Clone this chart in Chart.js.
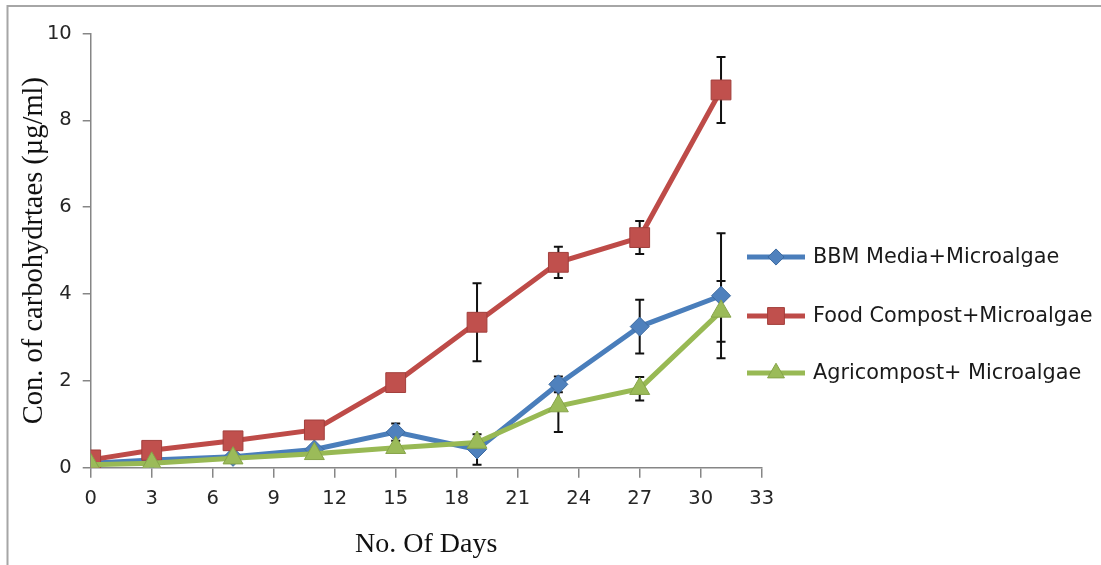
<!DOCTYPE html>
<html>
<head>
<meta charset="utf-8">
<style>
  html, body { margin: 0; padding: 0; background: #fff; }
  #wrap { width: 1101px; height: 565px; }
</style>
<script src="https://cdn.jsdelivr.net/npm/chart.js@4.4.0/dist/chart.umd.min.js"></script>
</head>
<body>
<div id="wrap"><canvas id="chart" width="1101" height="565"></canvas></div>
<script>
// valores (dias x µg/ml)
var days      = [0, 3, 7, 11, 15, 19, 23, 27, 31];
var names     = ['BBM Media+Microalgae', 'Food Compost+Microalgae', 'Agricompost+ Microalgae'];
var bbm       = [0.10, 0.18, 0.25, 0.42, 0.82, 0.42, 1.92, 3.25, 3.96];
var bbmErr    = [0, 0, 0, 0, 0.20, 0.35, 0.18, 0.62, 1.44];
var food      = [0.18, 0.40, 0.62, 0.87, 1.96, 3.35, 4.73, 5.30, 8.70];
var foodErr   = [0, 0, 0, 0, 0, 0.90, 0.36, 0.38, 0.76];
var agri      = [0.07, 0.10, 0.22, 0.32, 0.46, 0.58, 1.42, 1.82, 3.60];
var agriErr   = [0, 0, 0, 0, 0, 0, 0.60, 0.27, 0.70];
var xTicks    = [0, 3, 6, 9, 12, 15, 18, 21, 24, 27, 30, 33];
var yTicks    = [0, 2, 4, 6, 8, 10];
var xTitle    = 'No. Of Days';
var yTitle    = 'Con. of carbohydrtaes (µg/ml)';

function pts(vals, errs) {
  return days.map(function(d, i) { return { x: d, y: vals[i], err: errs[i] }; });
}

var axisGrey = '#868686';

// moldura cinza da figura
var frame = {
  id: 'frame',
  beforeDraw: function(chart) {
    var ctx = chart.ctx;
    ctx.save();
    ctx.fillStyle = '#fff';
    ctx.fillRect(0, 0, chart.width, chart.height);
    ctx.strokeStyle = '#a6a6a6';
    ctx.lineWidth = 2;
    ctx.beginPath();
    ctx.moveTo(7.5, chart.height);
    ctx.lineTo(7.5, 6);
    ctx.lineTo(chart.width, 6);
    ctx.stroke();
    ctx.restore();
  }
};

// barras de erro (atrás dos marcadores)
var errorBars = {
  id: 'errorBars',
  beforeDatasetsDraw: function(chart) {
    var ctx = chart.ctx, xs = chart.scales.x, ys = chart.scales.y;
    ctx.save();
    ctx.strokeStyle = '#111';
    ctx.lineWidth = 2;
    chart.data.datasets.forEach(function(ds) {
      ds.data.forEach(function(p) {
        if (!p.err) return;
        var x = xs.getPixelForValue(p.x);
        var yt = ys.getPixelForValue(p.y + p.err);
        var yb = ys.getPixelForValue(p.y - p.err);
        ctx.beginPath();
        ctx.moveTo(x, yt); ctx.lineTo(x, yb);
        ctx.moveTo(x - 4.5, yt); ctx.lineTo(x + 4.5, yt);
        ctx.moveTo(x - 4.5, yb); ctx.lineTo(x + 4.5, yb);
        ctx.stroke();
      });
    });
    ctx.restore();
  }
};

// legenda à direita com linha + marcador
var sideLegend = {
  id: 'sideLegend',
  afterDraw: function(chart) {
    var ctx = chart.ctx;
    var rows = [257, 316, 373];
    ctx.save();
    chart.data.datasets.forEach(function(ds, i) {
      var y = rows[i];
      ctx.strokeStyle = ds.borderColor;
      ctx.lineWidth = 5;
      ctx.beginPath();
      ctx.moveTo(747, y); ctx.lineTo(805, y);
      ctx.stroke();
      ctx.fillStyle = ds.pointBackgroundColor;
      ctx.strokeStyle = ds.pointBorderColor;
      ctx.lineWidth = 1;
      Chart.helpers.drawPoint(ctx, {
        pointStyle: ds.pointStyle, radius: ds.pointRadius * 0.85, rotation: 0, borderWidth: 1
      }, 776, y);
      ctx.fillStyle = '#1a1a1a';
      ctx.font = '20.8px "DejaVu Sans"';
      ctx.textAlign = 'left';
      ctx.textBaseline = 'middle';
      ctx.fillText(ds.label, 813, y + 1);
    });
    ctx.restore();
  }
};

new Chart(document.getElementById('chart'), {
  type: 'line',
  data: {
    datasets: [
      {
        label: names[0], data: pts(bbm, bbmErr), order: 3,
        borderColor: '#4A7EBB', borderWidth: 5,
        pointStyle: 'rectRot', pointRadius: 9.5,
        pointBackgroundColor: '#4F81BD', pointBorderColor: '#3c6aa0', pointBorderWidth: 1
      },
      {
        label: names[1], data: pts(food, foodErr), order: 2,
        borderColor: '#BE4B48', borderWidth: 5,
        pointStyle: 'rect', pointRadius: 14,
        pointBackgroundColor: '#C0504D', pointBorderColor: '#a23f3c', pointBorderWidth: 1
      },
      {
        label: names[2], data: pts(agri, agriErr), order: 1,
        borderColor: '#98B954', borderWidth: 5,
        pointStyle: 'triangle', pointRadius: 11.5,
        pointBackgroundColor: '#9BBB59', pointBorderColor: '#86a449', pointBorderWidth: 1
      }
    ]
  },
  options: {
    responsive: false,
    animation: false,
    devicePixelRatio: 1,
    layout: { padding: { left: 8, top: 33.5, right: 339.3, bottom: 0 } },
    plugins: { legend: { display: false }, tooltip: { enabled: false } },
    elements: { line: { tension: 0 } },
    scales: {
      x: {
        type: 'linear', min: 0, max: 33,
        afterBuildTicks: function(s) { s.ticks = xTicks.map(function(v) { return { value: v }; }); },
        afterFit: function(s) { s.height = 565 - 467.7; },
        grid: { drawOnChartArea: false, tickLength: 10, color: axisGrey, lineWidth: 1.5 },
        border: { color: axisGrey, width: 1.5 },
        ticks: { padding: 10, color: '#262626', font: { family: 'DejaVu Sans', size: 19.5 } },
        title: { display: true, text: xTitle, color: '#111',
                 font: { family: 'Liberation Serif', size: 28 }, padding: { top: 0, bottom: 4 } }
      },
      y: {
        type: 'linear', min: 0, max: 10,
        afterBuildTicks: function(s) { s.ticks = yTicks.map(function(v) { return { value: v }; }); },
        afterFit: function(s) { s.width = 82.7; },
        grid: { drawOnChartArea: false, tickLength: 8, color: axisGrey, lineWidth: 1.5 },
        border: { color: axisGrey, width: 1.5 },
        ticks: { padding: 11, color: '#262626', font: { family: 'DejaVu Sans', size: 19.5 } },
        title: { display: true, text: yTitle, color: '#111',
                 font: { family: 'Liberation Serif', size: 28.5 }, padding: { top: 9, bottom: 0 } }
      }
    }
  },
  plugins: [frame, errorBars, sideLegend]
});
</script>
</body>
</html>
